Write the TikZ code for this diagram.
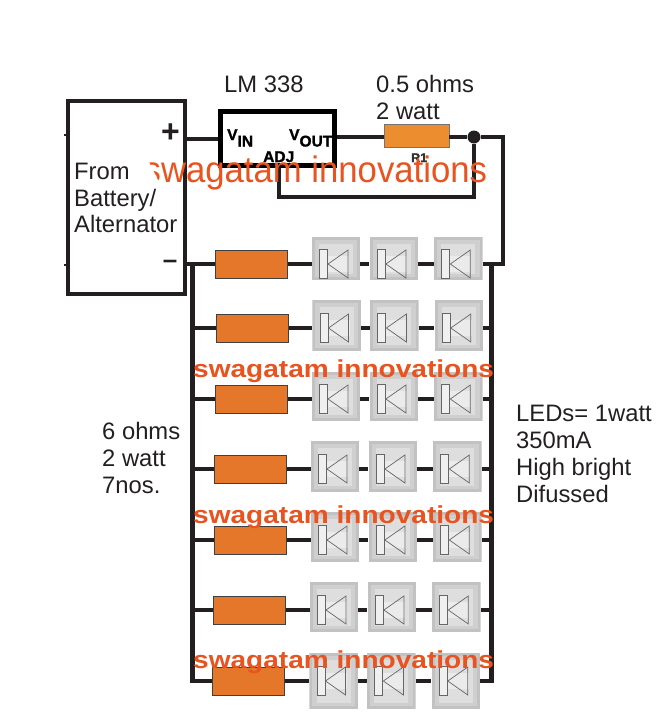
\documentclass[tikz,border=0pt]{standalone}
\usepackage{fontspec}
\setmainfont{Liberation Sans}
\newfontfamily\chipfont{Liberation Sans}[UprightFont={* Bold},UprightFeatures={FakeBold=1.5}]
\usetikzlibrary{positioning}
\definecolor{inkblack}{HTML}{231F20}
\definecolor{wmorange}{HTML}{E8531F}
\definecolor{resorange}{HTML}{E5772B}
\definecolor{senseorange}{HTML}{EC8E2F}
\newcommand{\pxfont}[1]{\fontsize{#1}{#1}\selectfont}

\begin{document}
\begin{tikzpicture}[
  x=1pt,y=-1pt,
  node distance=9pt and 9pt,
  wire/.style={draw=inkblack,line width=4.3pt},
  label/.style={text=inkblack,inner sep=0pt,align=left,font=\fontsize{23.8}{26.7}\selectfont},
  chiptext/.style={text=black,inner sep=0pt,font=\pxfont{15.5}\chipfont},
  wmthin/.style={text=wmorange,inner sep=0pt,anchor=base west,font=\pxfont{34.7}},
  wmbold/.style={text=wmorange,inner sep=0pt,anchor=base west,font=\pxfont{24.5}\bfseries},
  resistor/.style={draw=black!75,line width=1pt,fill=resorange,minimum width=72pt,minimum height=28pt,inner sep=0pt},
  ledcell/.style 2 args={minimum width=48.5pt,minimum height=58pt,inner sep=0pt,
    path picture={
      \fill[black!24] (-24.25,-#1) rectangle (24.25,#2);
      \fill[black!19] (-21.25,-#1+3) rectangle (21.25,#2-3);
      \fill[black!13] (-17,-#1+7) rectangle (17,#2-6);
      \fill[black!8] (-10,-8) rectangle (13,8);
      \draw[black!60,line width=1pt,fill=black!6] (-16.5,-14.5) rectangle (-8.5,14.5);
      \draw[black!60,line width=.7pt] (12,-14) -- (-8,0) -- (12,14) -- cycle;
    }}
]
\useasboundingbox (0,0) rectangle (672,724);

% source and regulator
\node[draw=inkblack,line width=4pt,minimum width=117pt,minimum height=193pt,inner sep=0pt] (batt) at (126.5,197.5) {};
\node[draw=black,line width=5pt,minimum width=114pt,minimum height=54pt,inner sep=0pt] (lm) at (277.5,138.5) {};
\node[draw=black!55,line width=.7pt,fill=senseorange,minimum width=65pt,minimum height=23pt,inner sep=0pt] (rsense) at (416.5,135.5) {};
\node[circle,fill=inkblack,minimum size=13pt,inner sep=0pt] (junc) at (474,137) {};

\coordinate (cornerA) at (503,137);
\coordinate (cornerB) at (503,264);
\coordinate (fbA) at (474,197);
\coordinate (fbB) at (279,197);
\coordinate (railLtop) at (192.5,264);
\coordinate (railRtop) at (491.5,264);

% the seven strings
\foreach \row/\ypos/\rx/\lx/\ttop/\tbot in {
  1/264/251.5/336/27/16,
  2/328/252/336.5/28/22.5,
  3/399/251.5/336/27/22,
  4/469/250.5/335/28/23,
  5/540/250.5/335/28/22,
  6/610/249.5/334/28/22,
  7/681/248.5/333.5/28/28}{
  \node[resistor] (res\row) at (\rx,\ypos) {};
  \node[ledcell={\ttop}{\tbot}] (led\row a) at (\lx,\ypos) {};
  \node[ledcell={\ttop}{\tbot},right=of led\row a] (led\row b) {};
  \node[ledcell={\ttop}{\tbot},right=15.5pt of led\row b] (led\row c) {};
  \path (res\row) edge[wire] (led\row a)
  (led\row a) edge[wire] (led\row b)
  (led\row b) edge[wire] (led\row c);
}

\path (batt.east |- lm) ++(0,.5) coordinate (plus);
\draw[wire] (plus) -- (plus -| lm.west);
\draw[wire,line width=4.8pt] (lm.east |- junc) -- (rsense.west |- junc);
\draw[wire] (rsense.east |- junc) -- (junc);
\draw[wire,line join=miter] (junc) -- (cornerA) -- (cornerB) -- (led1c.east |- cornerB);
\draw[wire,line join=miter,line width=4.8pt] (junc) -- (fbA) -- (fbB) -- (fbB |- lm.south);

\draw[wire] (batt.east |- res1) -- (res1);
\draw[wire,line join=miter] (res7.west) -| (railLtop);
\draw[wire,line join=miter] (led7c.east) -| (railRtop);
\foreach \row in {2,...,6}{
  \draw[wire] (railLtop |- res\row) -- (res\row);
  \draw[wire] (led\row c) -- (railRtop |- led\row c);
}

% stubs on the left of the source
\draw[inkblack,line width=2pt] (batt.west |- 0,135) -- ++(-2,0);
\draw[inkblack,line width=2pt] (batt.west |- 0,265) -- ++(-2,0);

% chip lettering
\node[chiptext,anchor=base west] (vin) at (227,140) {V\raisebox{-6.5pt}{IN}};
\node[chiptext,anchor=base west] (vout) at (289,140) {V\raisebox{-6.5pt}{OUT}};
\node[chiptext,anchor=base west] (adj) at (263,162) {ADJ};
\node[chiptext,anchor=base west,font=\pxfont{12.5}\chipfont,text=black!80] (r1) at (411,162) {R1};

% text
\node[wmthin] (wmtop) at (143.5,182) {\scalebox{1}[1.06]{swagatam innovations}};
\fill[white] (130,160) -- (148,160) -- (160,184) -- (130,184) -- cycle;
\node[label,anchor=base west] (lmname) at (224,92) {LM 338};
\node[label,anchor=base west] (rsname) at (376,92) {0.5 ohms};
\node[label,anchor=base west] (rswatt) at (376,119) {2 watt};
\node[label,anchor=base west] (from1) at (74,179) {From};
\node[label,anchor=base west] (from2) at (74,206) {Battery/};
\node[label,anchor=base west] (from3) at (74,232) {Alternator};
\node[label,anchor=base west] (res1t) at (102,439) {6 ohms};
\node[label,anchor=base west] (res2t) at (102,466) {2 watt};
\node[label,anchor=base west] (res3t) at (102,493) {7nos.};
\node[label,anchor=base west] (led1t) at (516,421) {LEDs= 1watt};
\node[label,anchor=base west] (led2t) at (516,448) {350mA};
\node[label,anchor=base west] (led3t) at (516,475) {High bright};
\node[label,anchor=base west] (led4t) at (516,502) {Difussed};
\node[text=inkblack,inner sep=0pt,font=\pxfont{32}\bfseries] (plusmark) at (170.5,133) {+};
\node[text=inkblack,inner sep=0pt,font=\pxfont{26}\bfseries] (minusmark) at (170,264.5) {–};

% bold marks over the strings
\foreach \wmy/\wmn in {377/a,523/b,668/c}{
  \node[wmbold] (wm\wmn) at (193,\wmy) {\scalebox{1.145}[1]{swagatam innovations}};
}
\end{tikzpicture}
\end{document}
